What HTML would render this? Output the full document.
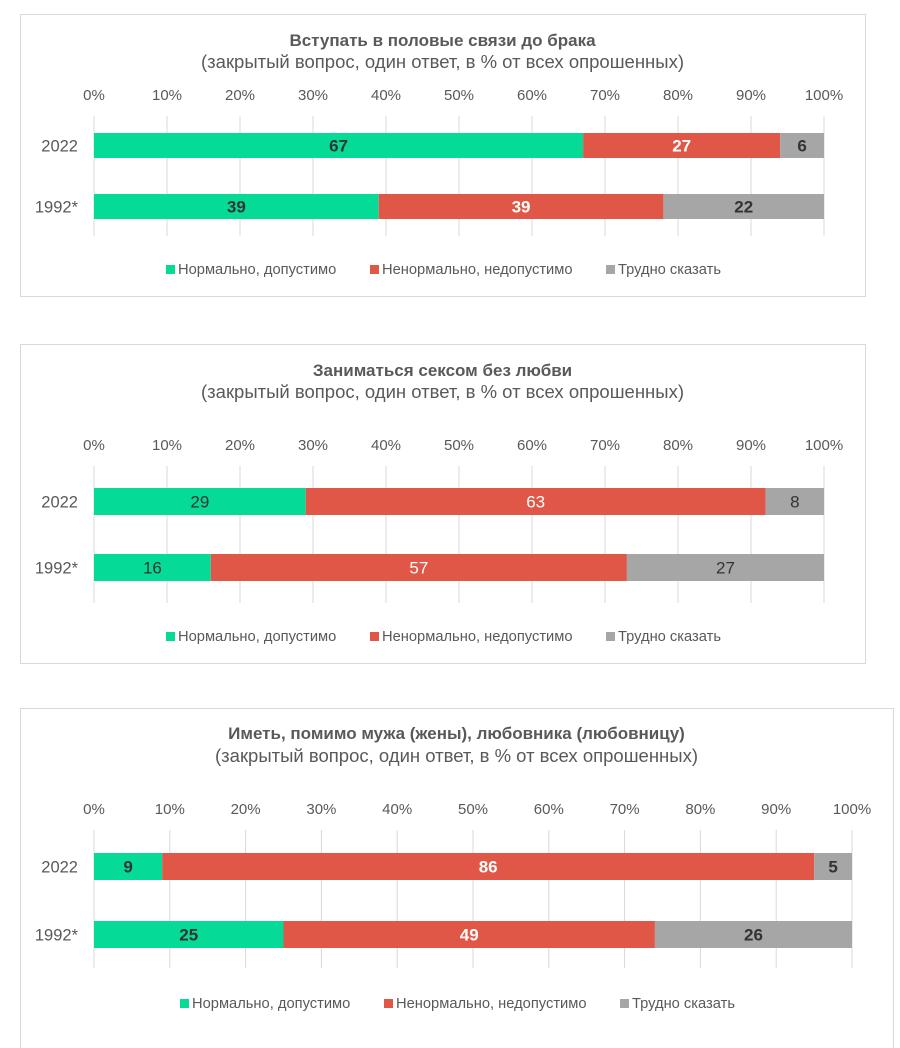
<!DOCTYPE html>
<html><head><meta charset="utf-8">
<style>
body{margin:0;background:#fff;width:900px;height:1048px;overflow:hidden;font-family:"Liberation Sans","DejaVu Sans",sans-serif;}
svg{position:absolute;left:0;top:0}
</style></head>
<body>
<svg id="s" width="900" height="1048" xmlns="http://www.w3.org/2000/svg"></svg>
<script>
const categories = ["2022","1992*"];
const series = ["Нормально, допустимо","Ненормально, недопустимо","Трудно сказать"];
const colors = ["#05db96","#e05747","#a6a6a6"];
const textColors = ["#333","#fff","#333"];
const ticks = ["0%","10%","20%","30%","40%","50%","60%","70%","80%","90%","100%"];
const titles = ["Вступать в половые связи до брака","Заниматься сексом без любви","Иметь, помимо мужа (жены), любовника (любовницу)"];
const subtitle = "(закрытый вопрос, один ответ, в % от всех опрошенных)";
const chart1Values = [[67,27,6],[39,39,22]];
const chart2Values = [[29,63,8],[16,57,27]];
const chart3Values = [[9,86,5],[25,49,26]];
const allValues = [chart1Values, chart2Values, chart3Values];
const panels = [
 {bx:20,by:14,bw:845,bh:282,title:40,sub:62,ax:95,x0:94,x1:824,g0:116,g1:236,bars:[133,194],bh2:25,leg:269,legx:[166,370,606],bold:true},
 {bx:20,by:344,bw:845,bh:319,title:370,sub:392,ax:445,x0:94,x1:824,g0:466,g1:603,bars:[488,554],bh2:27,leg:636,legx:[166,370,606],bold:false},
 {bx:20,by:708,bw:873,bh:360,title:733,sub:756,ax:809,x0:94,x1:852,g0:830,g1:968,bars:[853,921],bh2:27,leg:1003,legx:[180,384,620],bold:true}
];
const NS="http://www.w3.org/2000/svg", svg=document.getElementById('s');
function mk(t,a,p){const e=document.createElementNS(NS,t);for(const k in a)e.setAttribute(k,a[k]);(p||svg).appendChild(e);return e;}
panels.forEach((P,pi)=>{
 const g=mk('g',{});
 
 
 const box=mk('rect',{x:P.bx+0.5,y:P.by+0.5,width:P.bw,height:P.bh,fill:'#fff',stroke:'#d9d9d9'},g);
 
 
 const t=mk('text',{x:P.bx+P.bw/2,y:P.title+6,'text-anchor':'middle','font-size':17,'font-weight':'bold',fill:'#595959'},g);
 t.textContent=titles[pi];
 
 
 const st=mk('text',{x:P.bx+P.bw/2,y:P.sub+6,'text-anchor':'middle','font-size':18.5,fill:'#595959'},g);
 st.textContent=subtitle;
 
 
 const xs=v=>P.x0+(P.x1-P.x0)*v/100;
 ticks.forEach((tk,i)=>{
  const x=xs(i*10);
  const l=mk('line',{x1:x,x2:x,y1:P.g0,y2:P.g1,stroke:'#d9d9d9'},g);
  
  
  const tt=mk('text',{x:x,y:P.ax+5,'text-anchor':'middle','font-size':15,fill:'#595959'},g);
  tt.textContent=tk;
  
  
 });
 categories.forEach((c,ci)=>{
  const y=P.bars[ci];
  const cl=mk('text',{x:78,y:y+P.bh2/2+6,'text-anchor':'end','font-size':16.5,fill:'#595959'},g);
  cl.textContent=c;
  
  
  let acc=0;
  allValues[pi][ci].forEach((v,si)=>{
   const xa=xs(acc), xb=xs(acc+v); acc+=v;
   const r=mk('rect',{x:xa,y:y,width:xb-xa,height:P.bh2,fill:colors[si]},g);
   
   
   const lt=mk('text',{x:(xa+xb)/2,y:y+P.bh2/2+6,'text-anchor':'middle','font-size':17,'font-weight':P.bold?'bold':'normal',fill:textColors[si]},g);
   lt.textContent=v;
   
   
  });
 });
 series.forEach((s,si)=>{
  const x=P.legx[si];
  const sq=mk('rect',{x:x,y:P.leg-4,width:9,height:9,fill:colors[si]},g);
  
  
  const lt=mk('text',{x:x+12,y:P.leg+5,'font-size':14.7,fill:'#595959'},g);
  lt.textContent=s;
  
  
 });
});
</script>
</body></html>
